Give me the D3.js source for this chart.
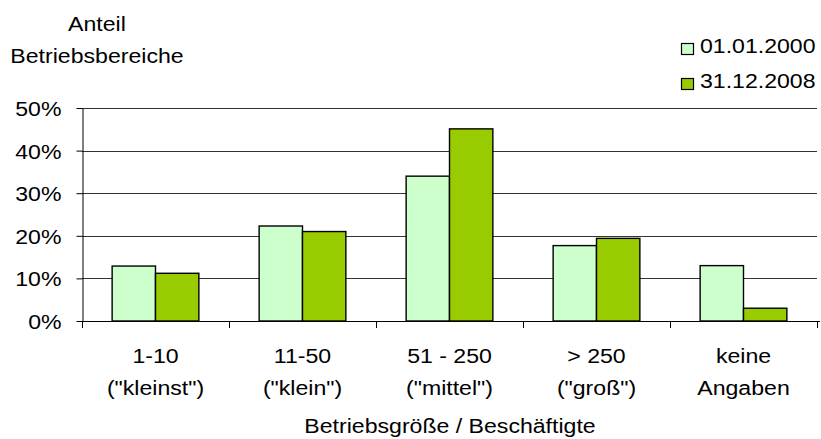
<!DOCTYPE html>
<html><head><meta charset="utf-8">
<script src="https://cdn.jsdelivr.net/npm/d3@7"></script>
<style>
html,body{margin:0;padding:0;background:#fff;}
svg{display:block;}
text{font-family:"Liberation Sans",Arial,sans-serif;fill:#000;}
</style></head>
<body>
<svg id="chart" width="821" height="439"></svg>
<script>
const categories = ["1-10|(\"kleinst\")", "11-50|(\"klein\")", "51 - 250|(\"mittel\")", "> 250|(\"groß\")", "keine|Angaben"];
const seriesNames = ["01.01.2000", "31.12.2008"];
const values2000 = [12.9, 22.3, 34.0, 17.7, 13.0];
const values2008 = [11.2, 21.0, 45.1, 19.4, 3.0];
const yTickValues = [0, 10, 20, 30, 40, 50];
const yTitle = ["Anteil", "Betriebsbereiche"];
const xTitle = "Betriebsgröße / Beschäftigte";
const colors = ["#CCFFCC", "#99CC00"];

(function () {
const svg = d3.select("#chart");
const FS = 21, SX = 1.1;
function txt(g, x, y, s, anchor) {
  return g.append("text")
    .attr("transform", `translate(${x},${y}) scale(${SX},1)`)
    .attr("text-anchor", anchor || "middle")
    .style("font-size", FS + "px")
    .text(s);
}

const pLeft = 82, pRight = 817, pTop = 108, pBottom = 321;
const x = d3.scaleBand().domain(categories).range([pLeft, pRight]).paddingInner(0.41).paddingOuter(0.205);
const xs = d3.scaleBand().domain(seriesNames).range([0, x.bandwidth()]);
const y = d3.scaleLinear().domain([0, 50]).range([pBottom, pTop]);

// gridlines
svg.append("g").selectAll("line").data(yTickValues.filter(d => d > 0)).join("line")
  .attr("x1", pLeft).attr("x2", pRight)
  .attr("y1", d => Math.round(y(d)) + 0.5).attr("y2", d => Math.round(y(d)) + 0.5)
  .attr("stroke", "#333").attr("stroke-width", 1);

// bars
const data = categories.map((c, i) => ({c, vals: [values2000[i], values2008[i]]}));
const grp = svg.append("g").selectAll("g").data(data).join("g")
  .attr("transform", d => `translate(${x(d.c)},0)`);
grp.selectAll("rect").data(d => d.vals.map((v, j) => ({v, s: seriesNames[j], j}))).join("rect")
  .attr("x", d => xs(d.s)).attr("width", xs.bandwidth())
  .attr("y", d => y(d.v)).attr("height", d => y(0) - y(d.v))
  .attr("fill", d => colors[d.j]).attr("stroke", "#000").attr("stroke-width", 1.4);

// y axis
const yAxis = svg.append("g").attr("transform", `translate(${pLeft + 0.5},0)`)
  .call(d3.axisLeft(y).tickValues(yTickValues).tickSize(6).tickSizeOuter(0).tickFormat(d => d + "%"));
yAxis.select(".domain").attr("stroke", "#000");
yAxis.selectAll(".tick line").attr("stroke", "#000");
yAxis.selectAll(".tick text").each(function(d) {
  d3.select(this).attr("x", null).attr("dy", null).attr("text-anchor", "end")
    .attr("transform", `translate(-21,7.5) scale(${SX},1)`)
    .style("font-size", FS + "px").style("font-family", '"Liberation Sans",Arial,sans-serif').attr("fill", "#000");
});

// x axis line and boundary ticks
const xa = svg.append("g");
xa.append("line").attr("x1", pLeft).attr("x2", pRight + 3).attr("y1", pBottom + 0.5).attr("y2", pBottom + 0.5).attr("stroke", "#000");
xa.selectAll("line.t").data(d3.range(categories.length + 1)).join("line").attr("class", "t")
  .attr("x1", i => Math.round(pLeft + i * x.step()) + 0.5).attr("x2", i => Math.round(pLeft + i * x.step()) + 0.5)
  .attr("y1", pBottom).attr("y2", pBottom + 7).attr("stroke", "#000");

// category labels
categories.forEach(c => {
  const cx = x(c) + x.bandwidth() / 2;
  const parts = c.split("|");
  txt(svg, cx, 363, parts[0]);
  txt(svg, cx, 395, parts[1]);
});

// titles
txt(svg, 450, 433, xTitle);
txt(svg, 97, 31, yTitle[0]);
txt(svg, 97, 63, yTitle[1]);

// legend
const lg = svg.append("g");
const legY = [43.5, 78.5], legT = [53, 88];
seriesNames.forEach((s, i) => {
  lg.append("rect").attr("x", 681.5).attr("y", legY[i]).attr("width", 12).attr("height", 11)
    .attr("fill", colors[i]).attr("stroke", "#000").attr("stroke-width", 1.2);
  txt(lg, 700, legT[i], s, "start");
});
})();
</script>
</body></html>
